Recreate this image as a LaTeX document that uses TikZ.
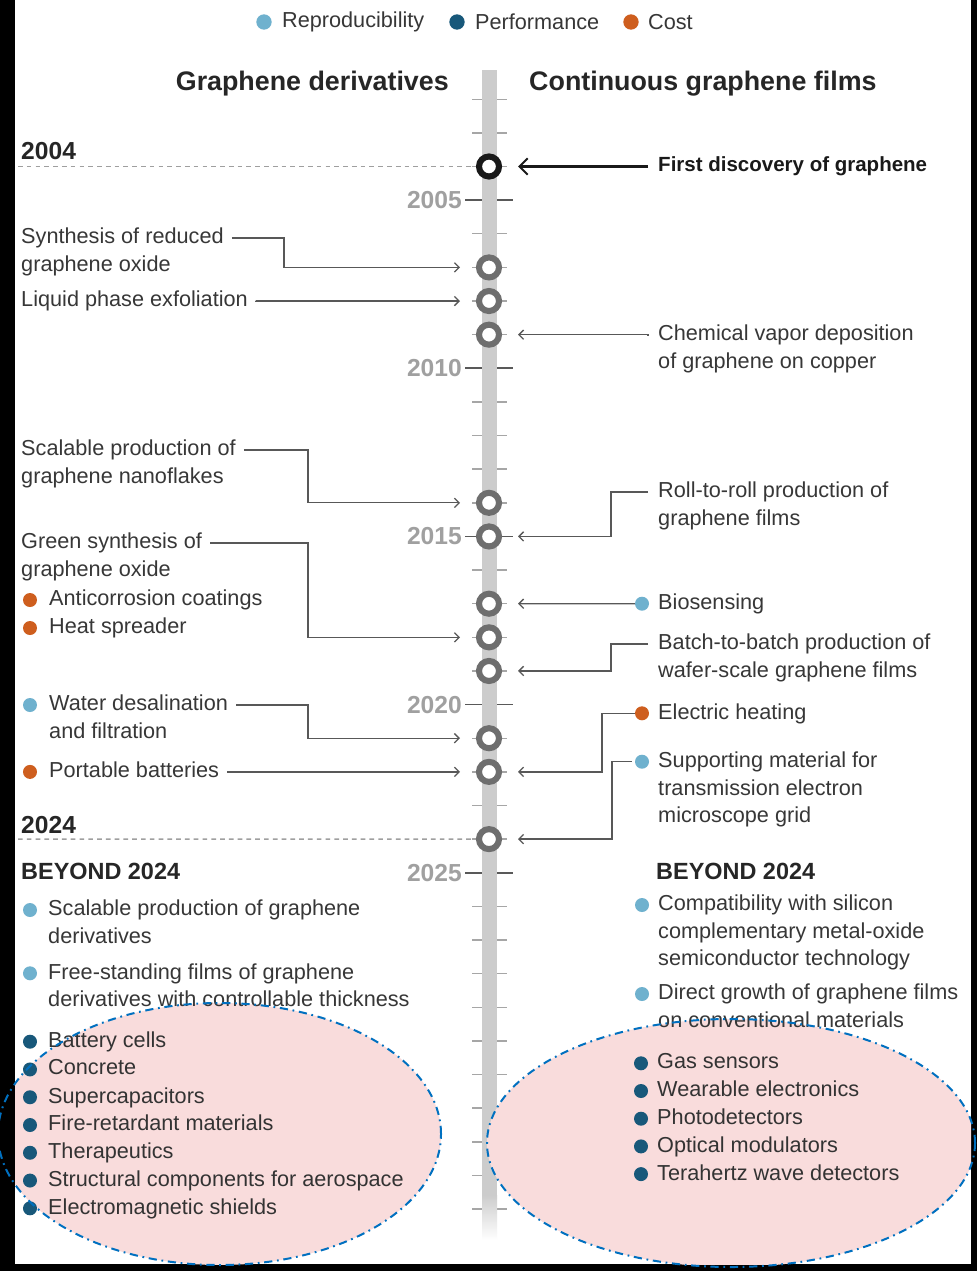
\documentclass[tikz,border=0pt]{standalone}
\usepackage{fontspec}
\setmainfont{Liberation Sans}
\usetikzlibrary{arrows.meta,shapes,positioning}
\definecolor{reprocol}{RGB}{111,177,206}
\definecolor{perfcol}{RGB}{24,88,122}
\definecolor{costcol}{RGB}{206,94,30}
\definecolor{inkgray}{RGB}{55,55,55}
\definecolor{linegray}{RGB}{88,88,88}
\definecolor{ringgray}{RGB}{110,110,110}
\definecolor{bargray}{RGB}{204,204,204}
\definecolor{yeargray}{RGB}{160,160,160}
\definecolor{ovalblue}{RGB}{0,112,192}
\definecolor{ovalpink}{RGB}{249,220,220}

\begin{document}
\begin{tikzpicture}[x=0.03cm, y=-0.03cm,
    txt/.style={anchor=north west, inner sep=0pt, align=left, text=inkgray,
                font=\fontsize{18.5}{23.4}\selectfont},
    lgtxt/.style={anchor=west, inner sep=0pt, text=inkgray, font=\fontsize{18.5}{22}\selectfont},
    head/.style={inner sep=0pt, text=black!85, font=\bfseries\fontsize{22.9}{26}\selectfont},
    txtb/.style={anchor=west, inner sep=0pt, text=black!90, font=\bfseries\fontsize{17.5}{21}\selectfont},
    yearlbl/.style={anchor=east, inner sep=0pt, text=yeargray, font=\bfseries\fontsize{21}{24}\selectfont},
    yrbig/.style={anchor=west, inner sep=0pt, text=black!85, font=\bfseries\fontsize{21}{24}\selectfont},
    beyond/.style={anchor=west, inner sep=0pt, text=black!85, font=\bfseries\fontsize{20}{24}\selectfont},
    dot/.style={circle, inner sep=0pt, minimum size=0.42cm},
    lgdot/.style={circle, inner sep=0pt, minimum size=0.46cm},
    ring/.style={circle, draw=ringgray, line width=5.2pt, fill=white, inner sep=0pt, minimum size=0.6cm},
    link/.style={draw=linegray, line width=1.1pt, -{Straight Barb[length=4pt,width=8pt]}},
    bigarrow/.style={draw=black!90, line width=1.8pt, -{Straight Barb[length=7pt,width=14pt]}},
    minortick/.style={draw=gray!70, line width=1.2pt},
    majortick/.style={draw=black!65, line width=1.4pt},
    yrline/.style={draw=gray!75, line width=1.2pt, dash pattern=on 4pt off 3.5pt},
    ovalfill/.style={fill=ovalpink},
    ovalrim/.style={draw=ovalblue, line width=1.7pt, dash pattern=on 7pt off 4pt on 1.5pt off 4pt}
]
\useasboundingbox (0,0) rectangle (977,1271);
\fill[black] (0,0) rectangle (977,1271);
\fill[white] (15,0) rectangle (971,1264);

% Legend
\node[lgdot, fill=reprocol] (lgR) at (264,22) {};
\node[lgtxt, right=0.3cm of lgR] (lgRt) {Reproducibility};
\node[lgdot, fill=perfcol] (lgP) at (457,22) {};
\node[lgtxt, right=0.3cm of lgP] (lgPt) {Performance};
\node[lgdot, fill=costcol] (lgC) at (631,22) {};
\node[lgtxt, right=0.27cm of lgC] (lgCt) {Cost};

% Column headings
\node[head, anchor=east] (hdL) at (449,84) {Graphene derivatives};
\node[head, anchor=west] (hdR) at (529,84) {Continuous graphene films};

% Time axis
\foreach \yy in {2002,...,2035} {
  \pgfmathsetmacro\ty{368.3+(\yy-2010)*33.63}
  \draw[minortick] (472,\ty) -- (507,\ty);
}
\foreach \yy in {2005,2010,...,2025} {
  \pgfmathsetmacro\ty{368.3+(\yy-2010)*33.63}
  \draw[majortick] (465,\ty) -- (513,\ty);
  \node[yearlbl] (y\yy) at (462,\ty) {\yy};
}
\fill[bargray] (482,70) rectangle (497,1195);
\shade[top color=bargray, bottom color=white] (482,1195) rectangle (497,1240);

% Highlighted groups (fill under the lists)
\begin{scope}
  \clip (15,0) rectangle (971,1264);
  \fill[ovalfill] (219.5,1134) ellipse [x radius=6.645cm, y radius=3.93cm];
  \fill[ovalfill] (731,1143) ellipse [x radius=7.32cm, y radius=3.72cm];
\end{scope}

% Events on the axis
\node[ring, draw=black!90] (c2004) at (489,166.5) {};
\coordinate (r2004) at (518,166.5);
\foreach \yy in {2007,2008,2009,2014,2015,2017,2018,2019,2021,2022,2024} {
  \pgfmathsetmacro\ty{368.3+(\yy-2010)*33.63}
  \node[ring] (c\yy) at (489,\ty) {};
  \coordinate (l\yy) at (460,\ty);
  \coordinate (r\yy) at (518,\ty);
}

% Dashed year lines
\node[yrbig] (t2004) at (21,151) {2004};
\node[yrbig] (t2024) at (21,825) {2024};
\coordinate (d2004) at (18,166.5);
\coordinate (d2024) at (18,839.1);
\draw[yrline] (d2004) -- (c2004);
\draw[yrline] (d2024) -- (c2024);

% Graphene derivatives
\node[txt] (rgo) at (21,228) {Synthesis of reduced\\graphene oxide};
\node[txt] (lpe) at (21,291) {Liquid phase exfoliation};
\node[txt] (gnf) at (21,440) {Scalable production of\\graphene nanoflakes};
\node[txt] (gso) at (21,533) {Green synthesis of\\graphene oxide};
\node[dot, fill=costcol] (dac) at (30,600) {};
\node[txt] (ac) at (49,590) {Anticorrosion coatings};
\node[dot, fill=costcol] (dhs) at (30,628) {};
\node[txt] (hs) at (49,618) {Heat spreader};
\node[dot, fill=reprocol] (dwd) at (30,705) {};
\node[txt] (wdf) at (49,695) {Water desalination\\and filtration};
\node[dot, fill=costcol] (dpb) at (30,771.9) {};
\node[txt] (pbt) at (49,762) {Portable batteries};

\draw[link] ([shift={(8,10)}]rgo.north east) -| ([shift={(-176,0)}]l2007) -- (l2007);
\draw[link] ([shift={(8,10)}]lpe.north east) |- (l2008);
\draw[link] ([shift={(8,10)}]gnf.north east) -| ([shift={(-152,0)}]l2014) -- (l2014);
\draw[link] ([shift={(8,10)}]gso.north east) -| ([shift={(-152,0)}]l2018) -- (l2018);
\draw[link] ([shift={(8,10)}]wdf.north east) -| ([shift={(-152,0)}]l2021) -- (l2021);
\draw[link] ([shift={(8,10)}]pbt.north east) |- (l2022);

% Continuous graphene films
\node[txtb] (fdg) at (658,166.5) {First discovery of graphene};
\node[txt] (cvd) at (658,324.7) {Chemical vapor deposition\\of graphene on copper};
\node[txt] (r2r) at (658,482) {Roll-to-roll production of\\graphene films};
\node[dot, fill=reprocol] (dbio) at (642,603.7) {};
\node[txt] (bio) at (658,593.7) {Biosensing};
\node[txt] (b2b) at (658,634) {Batch-to-batch production of\\wafer-scale graphene films};
\node[dot, fill=costcol] (dehe) at (642,713.3) {};
\node[txt] (ehe) at (658,703.3) {Electric heating};
\node[dot, fill=reprocol] (dstm) at (642,761.7) {};
\node[txt] (stm) at (658,751.7) {Supporting material for\\transmission electron\\microscope grid};

\draw[bigarrow] ([shift={(-10,0)}]fdg.west) -- (r2004);
\draw[link] ([shift={(-10,10)}]cvd.north west) |- (r2009);
\draw[link] ([shift={(-10,10)}]r2r.north west) -| ([shift={(93,0)}]r2015) -- (r2015);
\draw[link] (dbio) -- (r2017);
\draw[link] ([shift={(-10,10)}]b2b.north west) -| ([shift={(93,0)}]r2019) -- (r2019);
\draw[link] (dehe.west) -| ([shift={(84,0)}]r2022) -- (r2022);
\draw[link] ([shift={(-3,0)}]dstm.west) -| ([shift={(94,0)}]r2024) -- (r2024);

% Beyond 2024
\node[beyond] (byL) at (21,871.7) {BEYOND 2024};
\node[beyond] (byR) at (656,871.7) {BEYOND 2024};

\node[dot, fill=reprocol] (dsp) at (30,910) {};
\node[txt] (spd) at (48,900) {Scalable production of graphene\\derivatives};
\node[dot, fill=reprocol] (dfs) at (30,973.3) {};
\node[txt] (fsf) at (48,963.3) {Free-standing films of graphene\\derivatives with controllable thickness};
\foreach \name [count=\i] in {Battery cells, Concrete, Supercapacitors, Fire-retardant materials,
    Therapeutics, Structural components for aerospace, Electromagnetic shields} {
  \pgfmathsetmacro\ty{1041.7+(\i-1)*27.77}
  \node[dot, fill=perfcol] (pdL\i) at (30,\ty) {};
  \node[txt, text=black!80] (plL\i) at (48,{\ty-10}) {\name};
}

\node[dot, fill=reprocol] (dcs) at (642,905) {};
\node[txt] (cws) at (658,895) {Compatibility with silicon\\complementary metal-oxide\\semiconductor technology};
\node[dot, fill=reprocol] (ddg) at (642,994) {};
\node[txt] (dgf) at (658,984) {Direct growth of graphene films\\on conventional materials};
\foreach \name [count=\i] in {Gas sensors, Wearable electronics, Photodetectors,
    Optical modulators, Terahertz wave detectors} {
  \pgfmathsetmacro\ty{1063.3+(\i-1)*27.7}
  \node[dot, fill=perfcol] (pdR\i) at (641,\ty) {};
  \node[txt, text=black!80] (plR\i) at (657,{\ty-10}) {\name};
}

% Highlighted groups (rims on top)
\draw[ovalrim] (219.5,1134) ellipse [x radius=6.645cm, y radius=3.93cm];
\draw[ovalrim] (731,1143) ellipse [x radius=7.32cm, y radius=3.72cm];

\end{tikzpicture}
\end{document}
